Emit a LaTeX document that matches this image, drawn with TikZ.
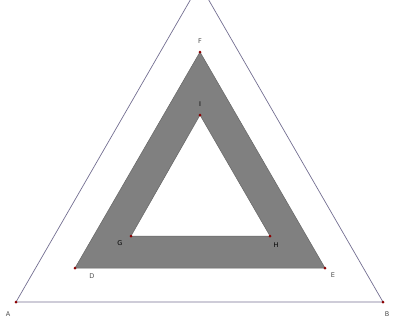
\documentclass[tikz,border=0pt]{standalone}
\usepackage{fontspec}
\setmainfont{DejaVu Sans}
\definecolor{outerline}{RGB}{115,110,145}
\definecolor{ringfill}{RGB}{128,128,128}
\begin{document}
\begin{tikzpicture}[x=1pt,y=-1pt,
  pt/.style={circle,fill=red!55!black,inner sep=0pt,minimum size=3pt},
  lbl/.style={font=\fontsize{6.5}{6.5}\selectfont,text=black!70,inner sep=0pt},
  dlbl/.style={lbl,text=black},
  edge/.style={draw=outerline,line width=0.7pt}]
\useasboundingbox (0,0) rectangle (393,325);
\clip (0,0) rectangle (393,325);
\coordinate (A) at (16,302);
\coordinate (B) at (383,302);
\coordinate (C) at (199.5,-16);
\coordinate (D) at (75,268);
\coordinate (E) at (325,268);
\coordinate (F) at (200,52);
\coordinate (G) at (131,236);
\coordinate (H) at (270,236);
\coordinate (I) at (200,115);
\fill[ringfill, even odd rule] (D) -- (E) -- (F) -- cycle (G) -- (H) -- (I) -- cycle;
\draw[edge] (A) -- (B) -- (C) -- cycle;
\draw[draw=black!60,line width=0.5pt] (D) -- (E) -- (F) -- cycle;
\draw[draw=black!60,line width=0.5pt] (G) -- (H) -- (I) -- cycle;
\foreach \p in {A,B,D,E,F,G,H,I} \node[pt] (p\p) at (\p) {};
\node[lbl] (lA) at (8,314) {A};
\node[lbl] (lB) at (387,314) {B};
\node[lbl] (lD) at (92,276) {D};
\node[lbl] (lE) at (333,275) {E};
\node[lbl] (lF) at (200,41) {F};
\node[dlbl] (lG) at (120,243) {G};
\node[dlbl] (lH) at (276,245) {H};
\node[dlbl] (lI) at (200,104) {I};
\end{tikzpicture}
\end{document}
